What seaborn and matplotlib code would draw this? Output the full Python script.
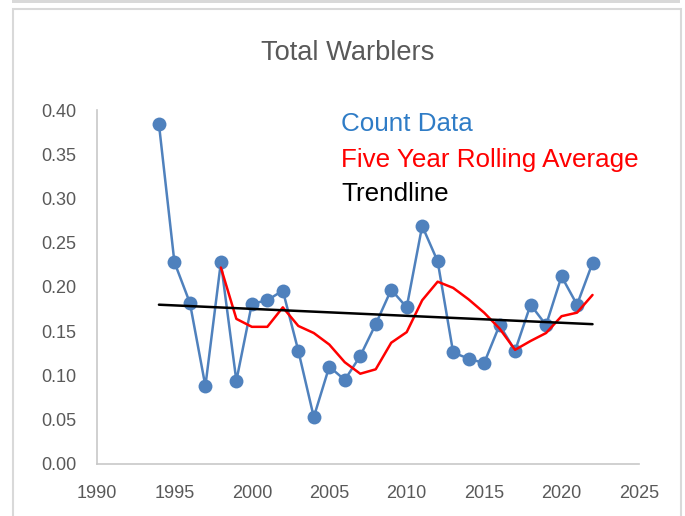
import pandas as pd
import matplotlib.pyplot as plt
import seaborn as sns
import numpy as np
from matplotlib.patches import Rectangle
from matplotlib.ticker import FormatStrFormatter

# values
years = list(range(1994, 2023))
count_data = [0.384, 0.228, 0.182, 0.088, 0.228, 0.094, 0.181, 0.185, 0.196, 0.128,
              0.053, 0.110, 0.095, 0.122, 0.158, 0.197, 0.177, 0.269, 0.229, 0.126,
              0.119, 0.114, 0.157, 0.128, 0.180, 0.157, 0.212, 0.180, 0.227]

rolling_years = list(range(1998, 2023))
rolling_avg = [0.222, 0.164, 0.155, 0.155, 0.177, 0.156, 0.148, 0.135, 0.115, 0.102,
               0.107, 0.137, 0.149, 0.185, 0.206, 0.199, 0.186, 0.171, 0.153, 0.129,
               0.139, 0.148, 0.167, 0.171, 0.191]

trend_years = [1994, 2022]
trend_values = [0.180, 0.158]

x_ticks = list(range(1990, 2026, 5))
y_ticks = [0.00, 0.05, 0.10, 0.15, 0.20, 0.25, 0.30, 0.35, 0.40]

sns.set_style("white")
plt.rcParams['font.family'] = ['Liberation Sans', 'DejaVu Sans']

counts = pd.DataFrame({'Year': years, 'Count': count_data})
rolling = pd.DataFrame({'Year': rolling_years, 'Average': rolling_avg})
trend = pd.DataFrame({'Year': trend_years, 'Trend': trend_values})

fig = plt.figure(figsize=(6.85, 5.16), dpi=100)
ax = fig.add_axes([0.1416, 0.1008, 0.7912, 0.686])

# count data with markers
sns.lineplot(data=counts, x='Year', y='Count', ax=ax, color='#4F81BD', linewidth=1.8,
             marker='o', markersize=10, markeredgewidth=0)
# rolling average
sns.lineplot(data=rolling, x='Year', y='Average', ax=ax, color='#FF0000', linewidth=1.8)
# trendline
sns.lineplot(data=trend, x='Year', y='Trend', ax=ax, color='black', linewidth=1.8)

ax.set_xlim(1990, 2025)
ax.set_ylim(0, 0.40)
ax.set_xticks(x_ticks)
ax.set_yticks(y_ticks)
ax.yaxis.set_major_formatter(FormatStrFormatter('%.2f'))
ax.set_xlabel('')
ax.set_ylabel('')
ax.tick_params(axis='both', length=0, labelsize=13, labelcolor='#595959')
ax.tick_params(axis='x', pad=15)
ax.tick_params(axis='y', pad=15)

for side in ['top', 'right']:
    ax.spines[side].set_visible(False)
for side in ['left', 'bottom']:
    ax.spines[side].set_color('#C8C8C8')
    ax.spines[side].set_linewidth(1.2)

# title and text legend
fig.text(348 / 685, 1 - 53 / 516, 'Total Warblers', ha='center', va='center',
         fontsize=19.6, color='#595959')
fig.text(341 / 685, 1 - 124 / 516, 'Count Data', ha='left', va='center',
         fontsize=18.7, color='#2F7CC6')
fig.text(341 / 685, 1 - 160 / 516, 'Five Year Rolling Average', ha='left', va='center',
         fontsize=18.7, color='#FF0000')
fig.text(341 / 685, 1 - 194 / 516, 'Trendline', ha='left', va='center',
         fontsize=18.7, color='black')

# chart frame like the screenshot
fig.add_artist(Rectangle((13 / 685, -0.05), 668 / 685, 1.05 - 9 / 516,
                         transform=fig.transFigure, fill=False,
                         edgecolor='#D9D9D9', linewidth=1.5))
fig.add_artist(Rectangle((12 / 685, 1 - 3 / 516), 668 / 685, 3 / 516,
                         transform=fig.transFigure, facecolor='#D9D9D9',
                         edgecolor='none'))

fig.savefig('out.png', dpi=100)
